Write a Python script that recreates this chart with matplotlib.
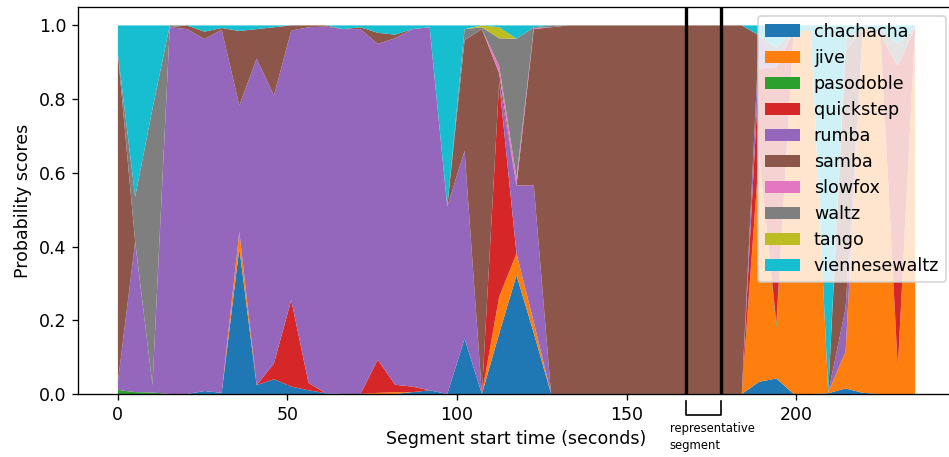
import numpy as np
import matplotlib
matplotlib.use('Agg')
import matplotlib.pyplot as plt
import matplotlib.transforms as mtransforms

plt.rcParams['font.size'] = 10.4

# segment start times (seconds)
times = [0.0, 5.1, 10.2, 15.3, 20.4, 25.5, 30.6, 35.8, 40.9, 46.0,
         51.1, 56.2, 61.3, 66.4, 71.5, 76.6, 81.7, 86.8, 91.9, 97.1,
         102.2, 107.3, 112.4, 117.5, 122.6, 127.7, 132.8, 137.9, 143.0, 148.1,
         153.2, 158.3, 163.5, 168.6, 173.7, 178.8, 183.9, 189.0, 194.1, 199.2,
         204.3, 209.4, 214.5, 219.6, 224.8, 229.9, 235.0]

dances = ['chachacha', 'jive', 'pasodoble', 'quickstep', 'rumba',
          'samba', 'slowfox', 'waltz', 'tango', 'viennesewaltz']

chachacha = [0, 0, 0, 0, 0, 0.008, 0.003, 0.395, 0.024, 0.04,
             0.02, 0.01, 0.002, 0, 0, 0, 0, 0.005, 0.01, 0,
             0.15, 0, 0.164, 0.322, 0.165, 0, 0, 0, 0, 0,
             0, 0, 0, 0, 0, 0, 0, 0.033, 0.042, 0,
             0, 0.002, 0.015, 0.003, 0, 0, 0]
jive = [0, 0, 0, 0, 0, 0, 0, 0.045, 0, 0,
        0, 0, 0, 0, 0, 0.003, 0.005, 0, 0, 0,
        0, 0, 0.10, 0.059, 0.03, 0, 0, 0, 0, 0,
        0, 0, 0, 0, 0, 0, 0, 0.617, 0.14, 0.985,
        0.985, 0.003, 0.10, 0.987, 0.975, 0.07, 0.99]
pasodoble = [0.011, 0.005, 0.004, 0, 0, 0, 0, 0, 0, 0,
             0, 0, 0, 0, 0, 0, 0, 0, 0, 0,
             0, 0, 0, 0, 0, 0, 0, 0, 0, 0,
             0, 0, 0, 0, 0, 0, 0, 0, 0.01, 0,
             0, 0, 0, 0, 0, 0, 0]
quickstep = [0, 0, 0, 0, 0, 0, 0, 0, 0, 0.043,
             0.235, 0.02, 0, 0, 0, 0.09, 0.02, 0.015, 0, 0,
             0, 0, 0.582, 0, 0, 0, 0, 0, 0, 0,
             0, 0, 0, 0, 0, 0, 0, 0.233, 0.695, 0,
             0, 0, 0, 0, 0, 0.82, 0.005]
rumba = [0.022, 0.408, 0.02, 0.995, 0.99, 0.955, 0.985, 0.343, 0.886, 0.727,
         0.731, 0.965, 0.995, 0.99, 0.99, 0.857, 0.94, 0.97, 0.985, 0.508,
         0.51, 0, 0, 0.185, 0.371, 0, 0, 0, 0, 0,
         0, 0, 0, 0, 0, 0, 0, 0.09, 0.02, 0,
         0, 0, 0.117, 0, 0, 0, 0]
samba = [0.891, 0, 0, 0, 0.01, 0.02, 0.005, 0.202, 0.08, 0.185,
         0.014, 0.005, 0.003, 0, 0.005, 0.03, 0.01, 0, 0, 0,
         0.30, 0.99, 0.024, 0, 0.424, 0.995, 1, 1, 1, 1,
         1, 1, 1, 1, 1, 1, 1, 0, 0, 0,
         0, 0, 0.70, 0, 0, 0, 0]
slowfox = [0, 0, 0, 0, 0, 0, 0, 0, 0, 0,
           0, 0, 0, 0, 0, 0, 0, 0, 0, 0,
           0, 0, 0.02, 0.02, 0.003, 0, 0, 0, 0, 0,
           0, 0, 0, 0, 0, 0, 0, 0, 0, 0,
           0, 0, 0, 0, 0, 0, 0]
waltz = [0, 0.122, 0.75, 0.005, 0, 0, 0, 0, 0, 0,
         0, 0, 0, 0, 0, 0, 0, 0, 0, 0,
         0.03, 0.005, 0.075, 0.378, 0.002, 0.005, 0, 0, 0, 0,
         0, 0, 0, 0, 0, 0, 0, 0, 0.033, 0,
         0, 0, 0.03, 0.005, 0.015, 0.06, 0]
tango = [0, 0, 0, 0, 0, 0, 0, 0, 0, 0,
         0, 0, 0, 0, 0, 0, 0, 0, 0, 0,
         0, 0.005, 0.03, 0, 0, 0, 0, 0, 0, 0,
         0, 0, 0, 0, 0, 0, 0, 0, 0, 0,
         0, 0, 0, 0, 0, 0, 0]
viennesewaltz = [0.076, 0.465, 0.226, 0, 0, 0.017, 0.007, 0.015, 0.01, 0.005,
                 0, 0, 0, 0.01, 0.005, 0.02, 0.025, 0.01, 0.005, 0.492,
                 0.01, 0, 0.005, 0.036, 0.005, 0, 0, 0, 0, 0,
                 0, 0, 0, 0, 0, 0, 0, 0.027, 0.06, 0.015,
                 0.015, 0.995, 0.038, 0.005, 0.01, 0.05, 0.005]

# representative segment boundaries (seconds)
rep_start = 167.5
rep_end = 177.8

fig = plt.figure(figsize=(949 / 120, 457 / 120), dpi=120)
ax = fig.add_axes([0.0822, 0.1379, 0.9241, 0.8468])

ax.stackplot(times, chachacha, jive, pasodoble, quickstep, rumba, samba,
             slowfox, waltz, tango, viennesewaltz, labels=dances)

ax.axvline(rep_start, color='black', lw=2)
ax.axvline(rep_end, color='black', lw=2)

# bracket under the x axis marking the representative segment
trans = mtransforms.blended_transform_factory(ax.transData, ax.transAxes)
ax.plot([rep_start, rep_start, rep_end, rep_end], [-0.018, -0.054, -0.054, -0.018],
        color='black', lw=1, transform=trans, clip_on=False)
ax.text(162.7, -0.072, 'representative\nsegment', fontsize=7, ha='left', va='top',
        transform=trans, linespacing=1.45)

ax.set_xlabel('Segment start time (seconds)')
ax.set_ylabel('Probability scores')
ax.legend(loc='upper right', fontsize=10.5, labelspacing=0.46, handlelength=2.0)

fig.savefig('out.png', dpi=120)
